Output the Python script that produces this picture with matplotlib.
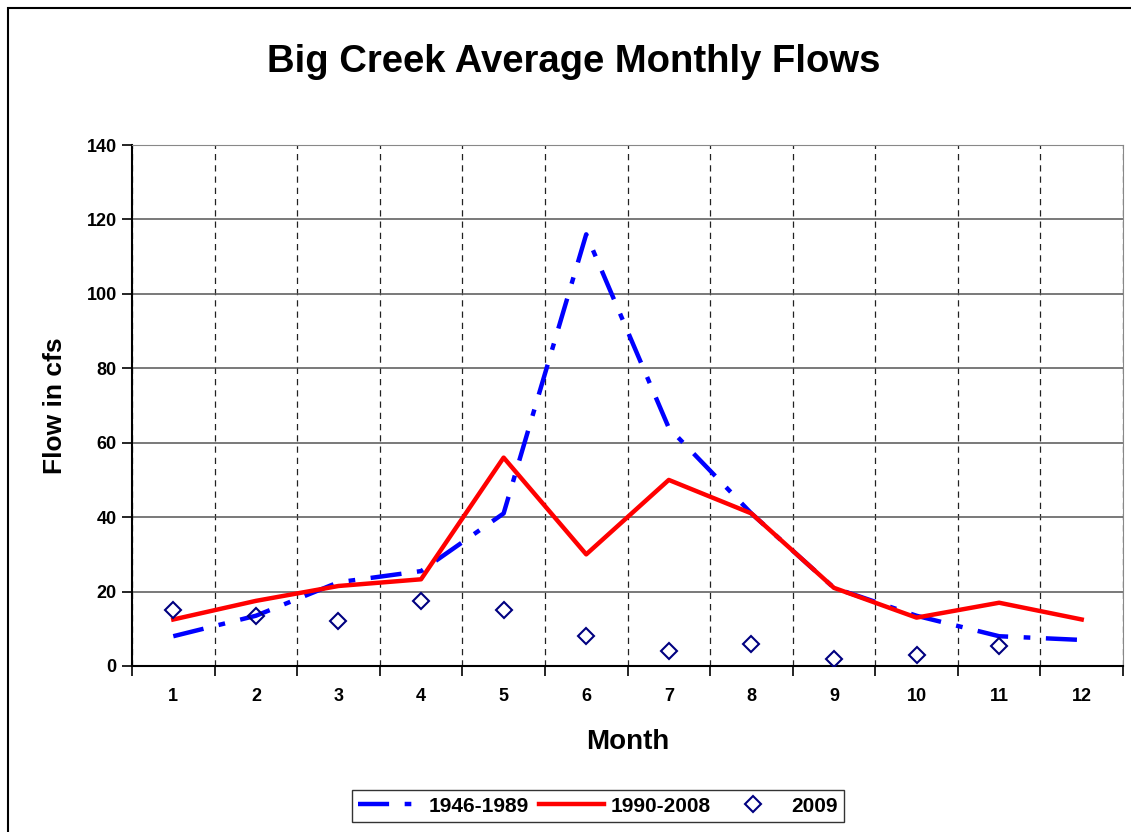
import matplotlib
matplotlib.use("Agg")
import matplotlib.pyplot as plt
from matplotlib.patches import Rectangle
import numpy as np

plt.rcParams['font.family'] = ['Liberation Sans', 'DejaVu Sans']
plt.rcParams['font.weight'] = 'bold'

# data
months = np.arange(1, 13)
month_labels = [str(m) for m in months]
flow_1946_1989 = [8, 13.5, 22.5, 25.5, 41, 116, 64, 41, 21, 13.5, 8, 7]
flow_1990_2008 = [12.5, 17.5, 21.5, 23.3, 56, 30, 50, 41, 21, 13, 17, 12.5]
months_2009 = np.arange(1, 12)
flow_2009 = [15, 13.5, 12, 17.5, 15, 8, 4, 6, 2, 3, 5.5]

fig = plt.figure(figsize=(11.31, 8.32), dpi=100)
fig.patch.set_facecolor('white')

# outer chart border (runs off the right / bottom edge like the original)
fig.patches.append(Rectangle((8 / 1131, -0.05), 1.2, 1 - 8 / 832 + 0.05,
                             transform=fig.transFigure, fill=False,
                             edgecolor='black', linewidth=1.5))

ax = fig.add_axes([132 / 1131, 1 - 666 / 832, (1123 - 132) / 1131, (666 - 145) / 832])

ax.plot(months, flow_1946_1989, color='#0000ff', linewidth=3.2,
        linestyle=(0, (7, 3.5, 1.5, 3.5)), label='1946-1989', zorder=3)
ax.plot(months, flow_1990_2008, color='#ff0000', linewidth=3.2,
        label='1990-2008', zorder=4)
ax.plot(months_2009, flow_2009, linestyle='none', marker='D', markersize=8.5,
        markerfacecolor='none', markeredgecolor='#000080', markeredgewidth=1.5,
        label='2009', zorder=5)

ax.set_xlim(0.5, 12.5)
ax.set_ylim(0, 140)
ax.set_yticks(np.arange(0, 141, 20))
ax.set_xticks(months)
ax.set_xticklabels(month_labels)
ax.set_xticks(np.arange(0.5, 12.6, 1), minor=True)

ax.tick_params(axis='x', which='major', length=0, pad=16, labelsize=13)
ax.tick_params(axis='x', which='minor', length=7, width=1.2, direction='out')
ax.tick_params(axis='y', length=7, width=1.2, direction='out', labelsize=13, pad=4)
for lab in ax.get_xticklabels() + ax.get_yticklabels():
    lab.set_fontweight('bold')

# grid: solid horizontal, dashed vertical at category boundaries
ax.grid(True, axis='y', which='major', color='#555555', linewidth=1.1, linestyle='-')
ax.grid(True, axis='x', which='minor', color='#222222', linewidth=0.9,
        linestyle=(0, (5, 4)))
ax.set_axisbelow(True)

ax.spines['left'].set_color('black')
ax.spines['left'].set_linewidth(1.5)
ax.spines['bottom'].set_color('black')
ax.spines['bottom'].set_linewidth(1.5)
ax.spines['top'].set_color('#888888')
ax.spines['right'].set_color('#888888')

ax.set_xlabel('Month', fontsize=20, fontweight='bold', labelpad=17)
ax.set_ylabel('Flow in cfs', fontsize=19, fontweight='bold', labelpad=14)

fig.text(574 / 1131, 1 - 62 / 832, 'Big Creek Average Monthly Flows',
         ha='center', va='center', fontsize=27.5, fontweight='bold')

leg = fig.legend(loc='center', bbox_to_anchor=(598 / 1131, 1 - 806 / 832), ncol=3,
                 fontsize=15, frameon=True, fancybox=False, handlelength=3.1,
                 handletextpad=0.3, columnspacing=0.5, borderpad=0.3)
leg.get_frame().set_edgecolor('black')
leg.get_frame().set_linewidth(1.0)
for t in leg.get_texts():
    t.set_fontweight('bold')

fig.savefig('out.png', dpi=100, facecolor='white')
